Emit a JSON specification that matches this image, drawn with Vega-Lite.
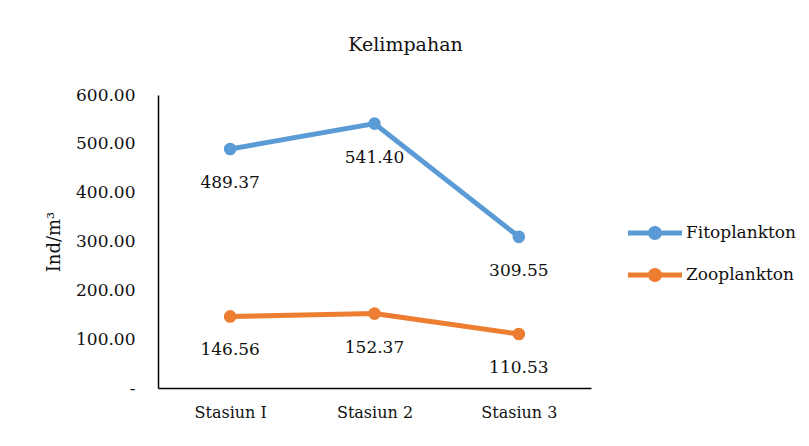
{
  "$schema": "https://vega.github.io/schema/vega-lite/v6.json",
  "width": 433,
  "height": 293,
  "autosize": {"type": "none"},
  "padding": {"left": 158, "top": 95, "right": 218, "bottom": 58},
  "background": "white",
  "config": {
    "view": {"stroke": null},
    "font": "DejaVu Serif",
    "text": {"font": "DejaVu Serif"}
  },
  "title": {
    "text": "Kelimpahan",
    "fontSize": 19,
    "fontWeight": "normal",
    "font": "DejaVu Serif",
    "color": "#111111",
    "dx": 31,
    "offset": 31
  },
  "data": {
    "values": [
      {"stasiun": "Stasiun I", "jenis": "Fitoplankton", "nilai": 489.37},
      {"stasiun": "Stasiun 2", "jenis": "Fitoplankton", "nilai": 541.40},
      {"stasiun": "Stasiun 3", "jenis": "Fitoplankton", "nilai": 309.55},
      {"stasiun": "Stasiun I", "jenis": "Zooplankton", "nilai": 146.56},
      {"stasiun": "Stasiun 2", "jenis": "Zooplankton", "nilai": 152.37},
      {"stasiun": "Stasiun 3", "jenis": "Zooplankton", "nilai": 110.53}
    ]
  },
  "encoding": {
    "x": {
      "field": "stasiun",
      "type": "nominal",
      "sort": ["Stasiun I", "Stasiun 2", "Stasiun 3"],
      "scale": {"type": "point", "padding": 0.5},
      "axis": {
        "title": null,
        "labelAngle": 0,
        "ticks": false,
        "domainColor": "#000000",
        "domainWidth": 1.5,
        "labelFont": "DejaVu Serif",
        "labelFontSize": 16,
        "labelColor": "#111111",
        "labelPadding": 16
      }
    },
    "y": {
      "field": "nilai",
      "type": "quantitative",
      "scale": {"domain": [0, 600]},
      "axis": {
        "title": "Ind/m³",
        "values": [0, 100, 200, 300, 400, 500, 600],
        "labelExpr": "datum.value == 0 ? '-' : format(datum.value, '.2f')",
        "ticks": false,
        "grid": false,
        "domainColor": "#000000",
        "domainWidth": 1.5,
        "labelFont": "DejaVu Serif",
        "labelFontSize": 17,
        "labelColor": "#111111",
        "labelPadding": 23,
        "titleFont": "DejaVu Serif",
        "titleFontSize": 18,
        "titleFontWeight": "normal",
        "titleColor": "#111111",
        "titlePadding": 12
      }
    },
    "color": {
      "field": "jenis",
      "type": "nominal",
      "scale": {"domain": ["Fitoplankton", "Zooplankton"], "range": ["#5B9BD5", "#ED7D31"]},
      "legend": {
        "title": null,
        "orient": "none",
        "legendX": 470,
        "legendY": 128,
        "padding": 0,
        "symbolType": "M-1,-0.25H4.4V0.25H-1Z M2.4,0A0.7,0.7,0,1,1,1.0,0A0.7,0.7,0,1,1,2.4,0Z",
        "symbolSize": 400,
        "symbolStrokeWidth": 0,
        "labelOffset": 38,
        "labelFont": "DejaVu Serif",
        "labelFontSize": 17,
        "labelColor": "#111111",
        "rowPadding": 24,
        "encode": {
          "symbols": {"update": {"fill": {"scale": "color", "field": "value"}, "strokeWidth": {"value": 0}, "opacity": {"value": 1}}}
        }
      }
    }
  },
  "layer": [
    {"mark": {"type": "line", "strokeWidth": 5}},
    {"mark": {"type": "point", "filled": true, "size": 160, "opacity": 1}},
    {
      "mark": {"type": "text", "dy": 34, "baseline": "middle", "fontSize": 17, "font": "DejaVu Serif", "color": "#111111"},
      "encoding": {
        "text": {"field": "nilai", "type": "quantitative", "format": ".2f"},
        "color": {"value": "#111111"}
      }
    }
  ]
}
